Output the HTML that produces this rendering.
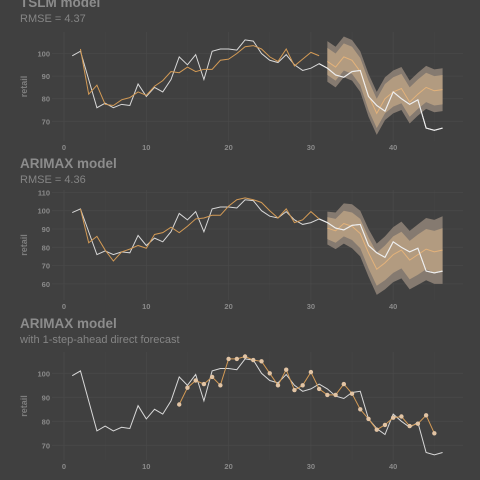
<!DOCTYPE html>
<html><head><meta charset="utf-8"><style>
html,body{margin:0;padding:0;background:#404040;}
svg{display:block;font-family:"Liberation Sans",sans-serif;}
</style></head><body>
<svg id="c" width="480" height="480" viewBox="0 0 480 480"></svg>
<script>
const actual=[99,101,88.5,76,78,76,77.5,77,86.5,81,85,83,88.5,98.5,95,99.5,88.5,101,102,102,101.5,106,105.5,100,97,96,99.5,95,92.5,93.5,95.5,93.5,90.5,89.5,92,92.5,81,77,74.5,83,80,77.5,79.5,67,66,67];
const tslmFit=[102,82,86,77.5,77,79.5,80.5,83,81.5,85.5,88,92,91.5,94,92,93,93,97,97.5,100,103,103.5,102,98.5,96.5,102,94.5,97.5,100.5,99];
const tslmFc=[96.5,94,98.5,97,92,81.5,73.5,80,83,84.5,78.5,82,85,83.5,84];
const tslmH95=[9,9,9,9,9,9.5,9.5,9.5,9.5,9.5,9.5,9.5,9.5,9.5,9.5];
const tslmH80=[6,6,6,6,6,6.5,6.5,6.5,6.5,6.5,6.5,6.5,6.5,6.5,6.5];
const arFit=[101,82.5,86,78.5,72.5,77.5,79,81,79.5,87,88,91,88,91.5,95.5,96,97.5,97.5,102.5,106,107,106,104.5,100,96,101,93.5,95,99.5,95.5];
const arFc=[90.5,89,93,91.5,87.5,77,68,71.5,76,78.5,73,76,79,77.5,78.5];
const arH95=[9,10,11,12,12.5,13,14,14.5,15,15.5,16,16.5,17,17.5,18.5];
const arH80=[6,6.5,7,7.5,8,8.5,9,9.5,10,10,10.5,11,11,11.5,12];
const oneStep=[87,94,97,95.5,98.5,95,106,106,107,105.5,105,100,95,101.5,93,95,100.5,93.5,91,91,95.5,91.5,85,81,76.5,78.5,81.5,82,78,79,82.5,75];
const xTicks=[0,10,20,30,40];
const yTicks1=[70,80,90,100];
const yTicks2=[60,70,80,90,100,110];
const yTicks3=[70,80,90,100];

const svg=document.getElementById('c');
const NS='http://www.w3.org/2000/svg';
function el(tag,attrs,parent){const e=document.createElementNS(NS,tag);for(const k in attrs)e.setAttribute(k,attrs[k]);(parent||svg).appendChild(e);return e;}
const xs=t=>64+t*8.23;

function panel(cfg){
  const g=el('g',{});
  
  
  const ys=v=>cfg.y0+(cfg.v0-v)*cfg.k;
  // grid
  for(let t=-5;t<=50;t+=5){const x=xs(t);if(x<52||x>463)continue;
    const l=el('line',{x1:x,x2:x,y1:cfg.top,y2:cfg.bot,stroke:t%10===0?'#494949':'#454545','stroke-width':t%10===0?0.8:0.5},g);
    }
  cfg.yt.forEach(v=>{const l=el('line',{x1:52,x2:463,y1:ys(v),y2:ys(v),stroke:'#494949','stroke-width':0.8},g);
    
    const tx=el('text',{x:50,y:ys(v)+3,'text-anchor':'end','font-size':7.5,'font-weight':'bold',fill:'#8a8a8a'},g);tx.textContent=v;
    });
  xTicks.forEach(t=>{const tx=el('text',{x:xs(t),y:cfg.xl,'text-anchor':'middle','font-size':7.5,'font-weight':'bold',fill:'#8a8a8a'},g);tx.textContent=t;
    });
  const yl=el('text',{x:0,y:0,transform:`translate(${27},${(cfg.top+cfg.bot)/2}) rotate(-90)`,'text-anchor':'middle','font-size':9,'font-weight':'bold',fill:'#7e7e7e'},g);yl.textContent='retail';
  
  const t1=el('text',{x:20,y:cfg.ty,'font-size':13.5,'font-weight':'bold',fill:'#8c8c8c'},g);t1.textContent=cfg.title;
  
  const t2=el('text',{x:20,y:cfg.ty+15,'font-size':11,fill:'#858585'},g);t2.textContent=cfg.sub;
  
  function band(fc,h,col,name){const s=cfg.fcStart;let up=fc.map((v,i)=>xs(s+i)+','+ys(v+h[i]));let lo=fc.map((v,i)=>xs(s+i)+','+ys(v-h[i])).reverse();
    const p=el('polygon',{points:up.concat(lo).join(' '),fill:col},g);}
  function line(arr,start,col,name,w){const p=el('polyline',{points:arr.map((v,i)=>xs(start+i)+','+ys(v)).join(' '),fill:'none',stroke:col,'stroke-width':w||1},g);
    }
  if(cfg.fc){band(cfg.fc,cfg.h95,'#857a70','pi-95-band');band(cfg.fc,cfg.h80,'#b29b80','pi-80-band');}
  line(actual,1,'#d8d8d8','actual-line');
  if(cfg.fit)line(cfg.fit,cfg.fitStart,'#d39a55','fitted-line');
  if(cfg.fc)line(cfg.fc,cfg.fcStart,'#e3b27a','forecast-line');
  if(cfg.fc)line(actual.slice(cfg.fcStart-2),cfg.fcStart-1,'#eeeeee','actual-test-line',1.1);
  if(cfg.pts){cfg.pts.forEach((v,i)=>{const c=el('circle',{cx:xs(cfg.fitStart+i),cy:ys(v),r:2.2,fill:'#e2c4a4'},g);
    });}
}
panel({name:'tslm-panel',title:'TSLM model',sub:'RMSE = 4.37',ty:7,top:32,bot:141,y0:53.5,v0:100,k:2.26,yt:yTicks1,xl:150,fit:tslmFit,fitStart:2,fc:tslmFc,fcStart:32,h95:tslmH95,h80:tslmH80});
panel({name:'arimax-panel',title:'ARIMAX model',sub:'RMSE = 4.36',ty:168,top:190,bot:300,y0:210.7,v0:100,k:1.83,yt:yTicks2,xl:309,fit:arFit,fitStart:2,fc:arFc,fcStart:32,h95:arH95,h80:arH80});
panel({name:'arimax-1step-panel',title:'ARIMAX model',sub:'with 1-step-ahead direct forecast',ty:328,top:352,bot:460,y0:373.3,v0:100,k:2.4,yt:yTicks3,xl:469,fit:oneStep,fitStart:14,pts:oneStep});
</script>
</body></html>
